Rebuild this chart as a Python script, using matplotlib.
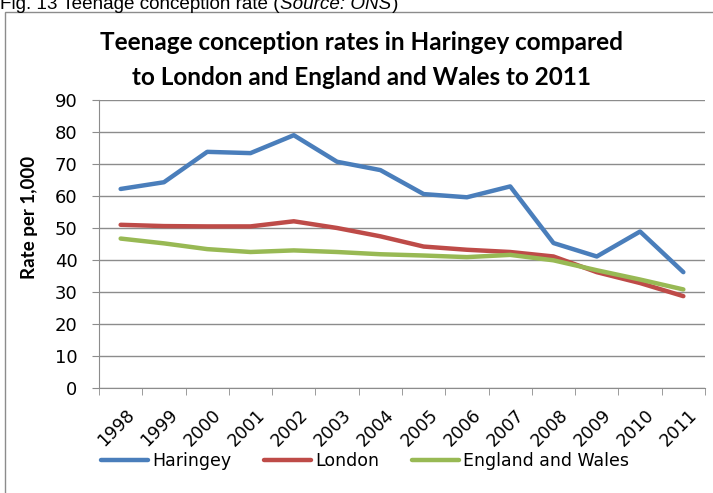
import matplotlib
matplotlib.use("Agg")
import matplotlib.pyplot as plt
from matplotlib.patches import Rectangle
from matplotlib.lines import Line2D
from matplotlib.transforms import ScaledTranslation

years = ["1998", "1999", "2000", "2001", "2002", "2003", "2004", "2005",
         "2006", "2007", "2008", "2009", "2010", "2011"]
haringey = [62.2, 64.3, 73.8, 73.4, 79.0, 70.7, 68.1, 60.6, 59.6, 63.0, 45.3, 41.1, 48.9, 36.2]
london = [51.0, 50.6, 50.5, 50.5, 52.1, 50.0, 47.4, 44.2, 43.2, 42.5, 41.1, 36.2, 32.8, 28.7]
eng_wales = [46.7, 45.2, 43.4, 42.5, 43.0, 42.5, 41.8, 41.4, 40.9, 41.6, 39.9, 36.8, 33.9, 30.8]
series_names = ["Haringey", "London", "England and Wales"]
colors = ["#4A7EBB", "#BE4B48", "#98B954"]

plt.rcParams['font.family'] = ['DejaVu Sans']

W, H = 713, 493
fig = plt.figure(figsize=(W / 100, H / 100), dpi=100)
r = fig.canvas.get_renderer()

# chart border
fig.patches.append(Rectangle((5 / W, -0.1), 1.2, 1 - 12 / H + 0.1, transform=fig.transFigure,
                             fill=False, edgecolor="#8C8C8C", linewidth=1.0))

# caption (partly clipped at top, as in the source)
cap_y = 1 - 9 / H
t_a = fig.text(0, cap_y, "Fig. 13 Teenage conception rate (", family="Liberation Sans",
               fontsize=13.6, ha="left", va="baseline")
bb = t_a.get_window_extent(r)
t_b = fig.text(bb.x1 / W, cap_y, "Source: ONS", family="Liberation Sans", style="italic",
               fontsize=13.6, ha="left", va="baseline")
bb2 = t_b.get_window_extent(r)
fig.text(bb2.x1 / W + 0.002, cap_y, ")", family="Liberation Sans",
         fontsize=13.6, ha="left", va="baseline")

ax = fig.add_axes([99 / W, 1 - 388 / H, (705 - 99) / W, (388 - 100) / H])
x = list(range(len(years)))
for vals, c in zip([haringey, london, eng_wales], colors):
    ax.plot(x, vals, color=c, linewidth=3.2, solid_capstyle="round", solid_joinstyle="round")

ax.set_xlim(-0.5, len(years) - 0.5)
ax.set_ylim(0, 90)
ax.set_yticks(range(0, 91, 10))
ax.yaxis.grid(True, color="#8C8C8C", linewidth=1.0)
ax.set_axisbelow(True)
for s in ["top", "right"]:
    ax.spines[s].set_visible(False)
ax.spines["left"].set_color("#8C8C8C")
ax.spines["bottom"].set_color("#8C8C8C")
ax.tick_params(axis="y", length=5, color="#8C8C8C", labelsize=13, pad=10.5)
ax.set_xticks(x)
ax.set_xticklabels(years, rotation=45, ha="right", rotation_mode="anchor", fontsize=12.5)
ax.tick_params(axis="x", which="major", length=0, pad=13)
off = ScaledTranslation(5 / 100, 0, fig.dpi_scale_trans)
for lab in ax.get_xticklabels():
    lab.set_transform(lab.get_transform() + off)
ax.set_xticks([i - 0.5 for i in range(len(years) + 1)], minor=True)
ax.tick_params(axis="x", which="minor", length=5, color="#8C8C8C")

fig.text(30 / W, 1 - 217 / H, "Rate per 1,000", family=["Lato", "DejaVu Sans"], fontsize=13.5,
         fontweight="bold", rotation=90, ha="center", va="center")

fig.text(361 / W, 1 - 60 / H, "Teenage conception rates in Haringey compared\nto London and England and Wales to 2011",
         ha="center", va="center", family=["Lato", "DejaVu Sans"], fontsize=17.5,
         fontweight="bold", linespacing=1.6)

handles = [Line2D([0], [0], color=c, linewidth=3.2, solid_capstyle="round") for c in colors]
fig.legend(handles, series_names, loc="center", bbox_to_anchor=(365 / W, 1 - 461 / H),
           ncol=3, frameon=False, fontsize=12.5, handlelength=2.7, handletextpad=0.25,
           columnspacing=1.9, borderpad=0, borderaxespad=0)

fig.savefig("out.png", dpi=100)
